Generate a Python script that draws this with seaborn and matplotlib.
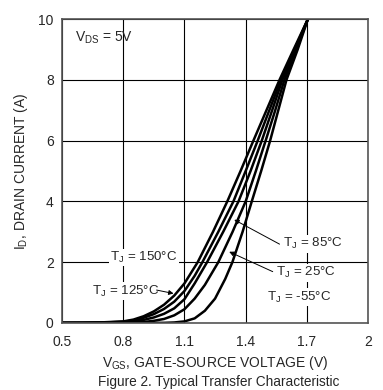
import numpy as np
import pandas as pd
import matplotlib
matplotlib.use("Agg")
import matplotlib.pyplot as plt
import seaborn as sns

# Curve data (VGS in V, ID in A)
vgs_150 = [0.5, 0.6, 0.7, 0.8, 0.85, 0.9, 0.95, 1.0, 1.05, 1.1, 1.165, 1.24, 1.31, 1.375, 1.438, 1.502, 1.566, 1.635, 1.705]
id_150 = [0, 0.005, 0.02, 0.05, 0.11, 0.22, 0.38, 0.6, 0.9, 1.3, 2.0, 3.0, 4.0, 5.0, 6.0, 7.0, 8.0, 9.0, 10.0]

vgs_125 = [0.5, 0.6, 0.7, 0.8, 0.85, 0.9, 0.95, 1.0, 1.05, 1.1, 1.15, 1.188, 1.266, 1.34, 1.40, 1.459, 1.516, 1.573, 1.64, 1.705]
id_125 = [0, 0.003, 0.01, 0.04, 0.08, 0.17, 0.29, 0.46, 0.7, 1.05, 1.55, 2.0, 3.0, 4.0, 5.0, 6.0, 7.0, 8.0, 9.0, 10.0]

vgs_85 = [0.5, 0.6, 0.7, 0.8, 0.85, 0.9, 0.95, 1.0, 1.05, 1.1, 1.15, 1.211, 1.29, 1.365, 1.424, 1.479, 1.53, 1.58, 1.643, 1.705]
id_85 = [0, 0.001, 0.005, 0.02, 0.05, 0.1, 0.18, 0.3, 0.48, 0.78, 1.3, 2.0, 3.0, 4.0, 5.0, 6.0, 7.0, 8.0, 9.0, 10.0]

vgs_25 = [0.5, 0.7, 0.8, 0.9, 0.95, 1.0, 1.05, 1.1, 1.15, 1.2, 1.266, 1.336, 1.40, 1.45, 1.498, 1.545, 1.59, 1.648, 1.705]
id_25 = [0, 0.001, 0.005, 0.03, 0.07, 0.13, 0.25, 0.45, 0.8, 1.25, 2.0, 3.0, 4.0, 5.0, 6.0, 7.0, 8.0, 9.0, 10.0]

vgs_m55 = [0.5, 0.8, 1.0, 1.05, 1.1, 1.15, 1.2, 1.25, 1.3, 1.335, 1.385, 1.43, 1.476, 1.52, 1.56, 1.60, 1.655, 1.705]
id_m55 = [0, 0.0, 0.003, 0.015, 0.05, 0.15, 0.4, 0.8, 1.45, 2.0, 3.0, 4.0, 5.0, 6.0, 7.0, 8.0, 9.0, 10.0]

x_ticks = [0.5, 0.8, 1.1, 1.4, 1.7, 2]
x_tick_labels = ["0.5", "0.8", "1.1", "1.4", "1.7", "2"]
y_ticks = [0, 2, 4, 6, 8, 10]

curves = {
    "150": (vgs_150, id_150),
    "125": (vgs_125, id_125),
    "85": (vgs_85, id_85),
    "25": (vgs_25, id_25),
    "-55": (vgs_m55, id_m55),
}
df = pd.concat(
    [pd.DataFrame({"vgs": v, "id": i, "tj": k}) for k, (v, i) in curves.items()],
    ignore_index=True,
)

sns.set_style("white")
plt.rcParams["font.family"] = ["Liberation Sans", "DejaVu Sans"]
plt.rcParams["mathtext.fontset"] = "custom"
plt.rcParams["mathtext.rm"] = "Liberation Sans"
plt.rcParams["mathtext.it"] = "Liberation Sans:italic"

fig = plt.figure(figsize=(3.83, 3.90), dpi=100)
ax = fig.add_axes([0.162, 0.172, 0.799, 0.779])

sns.lineplot(
    data=df, x="vgs", y="id", hue="tj", units="tj", estimator=None, sort=False,
    palette=["black"] * 5, linewidth=1.8, legend=False, ax=ax,
)

ax.set_xlim(0.5, 2)
ax.set_ylim(0, 10)
ax.set_xticks(x_ticks)
ax.set_xticklabels(x_tick_labels)
ax.set_yticks(y_ticks)
ax.grid(True, color="black", linewidth=0.8)
ax.tick_params(length=0, labelsize=10, pad=6)
ax.tick_params(axis="x", pad=9)
for s in ax.spines.values():
    s.set_color("#555555")
    s.set_linewidth(1.2)

ax.set_xlabel(r"$\mathregular{V_{GS}}$, GATE-SOURCE VOLTAGE (V)", fontsize=10, labelpad=3)
ax.set_ylabel(r"$\mathregular{I_D}$, DRAIN CURRENT (A)", fontsize=10, labelpad=6)
fig.text(0.57, 0.003, "Figure 2. Typical Transfer Characteristic", ha="center", va="bottom", fontsize=9.8)

box = dict(facecolor="white", edgecolor="none", pad=1)
ax.text(0.565, 9.4, r"$\mathregular{V_{DS}}$ = 5V", fontsize=10, va="center")
ax.text(0.735, 2.15, r"$\mathregular{T_J}$ = 150°C", fontsize=9.6, va="center", bbox=box)
ax.text(0.647, 1.05, r"$\mathregular{T_J}$ = 125°C", fontsize=9.6, va="center", bbox=box)
ax.text(1.582, 2.6, r"$\mathregular{T_J}$ = 85°C", fontsize=9.6, va="center", bbox=box)
ax.text(1.549, 1.65, r"$\mathregular{T_J}$ = 25°C", fontsize=9.6, va="center", bbox=box)
ax.text(1.503, 0.85, r"$\mathregular{T_J}$ = -55°C", fontsize=9.6, va="center", bbox=box)

arrow = dict(arrowstyle="-|>", color="black", lw=0.7, mutation_scale=7)
ax.annotate("", xy=(1.06, 0.95), xytext=(0.95, 1.1), arrowprops=arrow)
ax.annotate("", xy=(1.332, 3.44), xytext=(1.578, 2.55), arrowprops=arrow)
ax.annotate("", xy=(1.307, 2.38), xytext=(1.545, 1.65), arrowprops=arrow)

fig.savefig("out.png", dpi=100)
